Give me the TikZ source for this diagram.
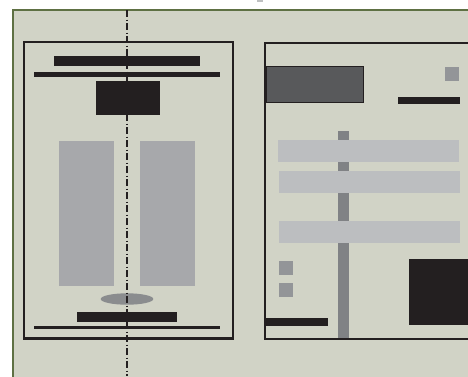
\documentclass[tikz,border=0pt]{standalone}
\usepackage{xcolor}
\definecolor{bgfill}{HTML}{D1D3C6}
\definecolor{bggreen}{HTML}{5E7043}
\definecolor{ink}{HTML}{231F20}
\definecolor{gmid}{HTML}{A7A8AB}
\definecolor{glight}{HTML}{BCBEC0}
\definecolor{gpole}{HTML}{808285}
\definecolor{gdark}{HTML}{58595B}
\definecolor{gsq}{HTML}{939598}
\definecolor{gell}{HTML}{8A8C8E}
\tikzset{
  frame/.style={draw=ink, line width=2.4pt},
  blk/.style={fill=ink},
  axisline/.style={draw=ink, line width=1.1pt, dash pattern=on 7pt off 2.5pt on 1pt off 2.5pt}
}
\begin{document}
\begin{tikzpicture}[x=1pt,y=-1pt]
\useasboundingbox (0,0) rectangle (468,376);
\fill[white] (0,0) rectangle (468,376);
\fill[gsq!60] (256.7,0) rectangle (263.3,2);
% background panel
\fill[bgfill] (12,9) rectangle (470,378);
\draw[bggreen, line width=2.5pt] (13.2,378) -- (13.2,10.2) -- (470,10.2);
% left frame
\draw[frame] (24,42) rectangle (233,338.5);
\fill[blk] (54,56) rectangle (200,66);
\fill[blk] (34,71.5) rectangle (220,76.5);
\fill[blk] (96,81) rectangle (160,115);
\fill[gmid] (59,141) rectangle (114,286);
\fill[gmid] (140,141) rectangle (195,286);
\fill[gell] (127,299) ellipse [x radius=26.3, y radius=5.7];
\fill[blk] (77,312.3) rectangle (176.7,322.3);
\fill[blk] (34,326) rectangle (220,329.3);
\draw[axisline] (127,10) -- (127,376);
% right frame
\draw[frame] (470,43) -- (265,43) -- (265,338.7) -- (470,338.7);
\fill[gdark, draw=ink, line width=0.6pt] (266,66.3) rectangle (363.7,102.3);
\fill[gsq] (445,67) rectangle (459,80.7);
\fill[blk] (397.7,97) rectangle (459.7,104.3);
\fill[gpole] (338,131) rectangle (349,338);
\fill[glight] (278,140) rectangle (459,161.7);
\fill[glight] (279,171) rectangle (460,192.7);
\fill[glight] (279,221) rectangle (460,242.7);
\fill[gsq] (279,261) rectangle (293,275);
\fill[gsq] (279,283) rectangle (293,297);
\fill[blk] (409,259) rectangle (470,325);
\fill[blk] (265,318) rectangle (328,325.7);
\end{tikzpicture}
\end{document}
